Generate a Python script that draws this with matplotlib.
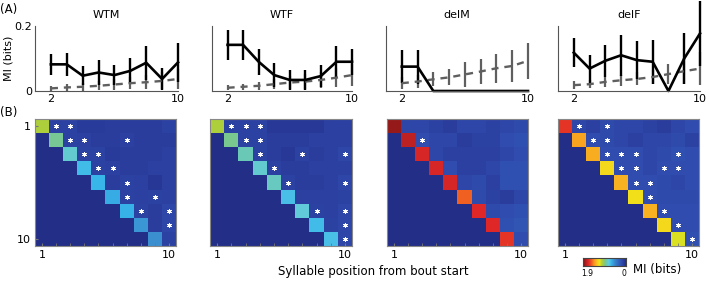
import numpy as np
import matplotlib
matplotlib.use('Agg')
import matplotlib.pyplot as plt
from matplotlib.colors import LinearSegmentedColormap

plt.rcParams['font.family'] = ['DejaVu Sans']

groups = ['WTM', 'WTF', 'delM', 'delF']
positions = [2, 3, 4, 5, 6, 7, 8, 9, 10]

# (A) mutual information, data (black) and shuffled (grey dashed)
mi_data = {
    'WTM': [0.082, 0.082, 0.047, 0.057, 0.049, 0.062, 0.087, 0.037, 0.088],
    'WTF': [0.142, 0.142, 0.090, 0.049, 0.034, 0.034, 0.046, 0.090, 0.090],
    'delM': [0.075, 0.075, 0.0, 0.0, 0.0, 0.0, 0.0, 0.0, 0.0],
    'delF': [0.118, 0.069, 0.093, 0.110, 0.095, 0.090, 0.0, 0.100, 0.177],
}
mi_data_err = {
    'WTM': [0.032, 0.035, 0.030, 0.038, 0.032, 0.040, 0.052, 0.033, 0.060],
    'WTF': [0.046, 0.046, 0.040, 0.036, 0.032, 0.030, 0.035, 0.048, 0.040],
    'delM': [0.051, 0.052, 0.0, 0.0, 0.0, 0.0, 0.0, 0.0, 0.0],
    'delF': [0.045, 0.043, 0.050, 0.063, 0.058, 0.067, 0.0, 0.078, 0.100],
}
mi_shuf = {
    'WTM': [0.008, 0.011, 0.013, 0.016, 0.020, 0.024, 0.027, 0.031, 0.037],
    'WTF': [0.010, 0.013, 0.016, 0.021, 0.026, 0.029, 0.034, 0.041, 0.049],
    'delM': [0.024, 0.029, 0.036, 0.042, 0.051, 0.060, 0.070, 0.077, 0.093],
    'delF': [0.018, 0.021, 0.028, 0.033, 0.037, 0.043, 0.052, 0.061, 0.069],
}
mi_shuf_err = {
    'WTM': [0.008, 0.010, 0.012, 0.014, 0.016, 0.018, 0.022, 0.026, 0.030],
    'WTF': [0.008, 0.010, 0.013, 0.016, 0.020, 0.022, 0.025, 0.030, 0.035],
    'delM': [0.018, 0.020, 0.022, 0.025, 0.038, 0.037, 0.045, 0.048, 0.055],
    'delF': [0.012, 0.013, 0.015, 0.017, 0.020, 0.022, 0.030, 0.040, 0.050],
}

# (B) pairwise MI matrices: diagonal + upper triangle rows
diag = {
    'WTM': [1.06, 0.90, 0.80, 0.68, 0.66, 0.62, 0.64, 0.55, 0.53],
    'WTF': [1.06, 0.91, 0.84, 0.80, 0.83, 0.70, 0.78, 0.68, 0.70],
    'delM': [1.84, 1.75, 1.67, 1.67, 1.67, 1.52, 1.65, 1.65, 1.62],
    'delF': [1.62, 1.37, 1.35, 1.22, 1.33, 1.20, 1.33, 1.22, 1.14],
}
upper = {
    'WTM': [[0.14, 0.14, 0.09, 0.09, 0.10, 0.10, 0.10, 0.10, 0.14],
            [0.14, 0.12, 0.10, 0.10, 0.12, 0.10, 0.10, 0.10],
            [0.14, 0.14, 0.09, 0.10, 0.10, 0.10, 0.12],
            [0.14, 0.12, 0.10, 0.10, 0.12, 0.12],
            [0.10, 0.14, 0.12, 0.07, 0.12],
            [0.14, 0.12, 0.14, 0.12],
            [0.14, 0.10, 0.16],
            [0.10, 0.16],
            [0.14]],
    'WTF': [[0.14, 0.14, 0.14, 0.08, 0.08, 0.08, 0.08, 0.12, 0.12],
            [0.14, 0.14, 0.10, 0.10, 0.10, 0.12, 0.12, 0.12],
            [0.14, 0.10, 0.08, 0.14, 0.10, 0.12, 0.16],
            [0.14, 0.10, 0.10, 0.12, 0.12, 0.12],
            [0.14, 0.10, 0.10, 0.12, 0.16],
            [0.12, 0.12, 0.12, 0.14],
            [0.14, 0.12, 0.16],
            [0.14, 0.16],
            [0.16]],
    'delM': [[0.16, 0.16, 0.14, 0.10, 0.16, 0.16, 0.14, 0.16, 0.18],
             [0.20, 0.16, 0.16, 0.10, 0.14, 0.14, 0.20, 0.22],
             [0.16, 0.12, 0.12, 0.12, 0.12, 0.16, 0.20],
             [0.20, 0.12, 0.12, 0.16, 0.22, 0.22],
             [0.16, 0.18, 0.12, 0.22, 0.22],
             [0.18, 0.14, 0.10, 0.16],
             [0.18, 0.20, 0.22],
             [0.22, 0.24],
             [0.20]],
    'delF': [[0.16, 0.12, 0.18, 0.16, 0.16, 0.14, 0.10, 0.16, 0.20],
             [0.20, 0.18, 0.16, 0.12, 0.16, 0.16, 0.18, 0.14],
             [0.20, 0.20, 0.20, 0.16, 0.18, 0.22, 0.20],
             [0.20, 0.20, 0.16, 0.20, 0.20, 0.20],
             [0.20, 0.20, 0.18, 0.16, 0.20],
             [0.20, 0.18, 0.18, 0.18],
             [0.20, 0.20, 0.20],
             [0.20, 0.20],
             [0.22]],
}
# significant pairs (row, col), zero based
stars = {
    'WTM': [(0, 1), (0, 2), (1, 2), (1, 3), (1, 6), (2, 3), (2, 4), (3, 4), (3, 5),
            (4, 6), (5, 6), (5, 8), (6, 7), (6, 9), (7, 9)],
    'WTF': [(0, 1), (0, 2), (0, 3), (1, 2), (1, 3), (2, 3), (2, 6), (2, 9), (3, 4),
            (4, 5), (4, 9), (6, 7), (6, 9), (7, 9), (8, 9)],
    'delM': [(1, 2)],
    'delF': [(0, 1), (0, 3), (1, 2), (1, 3), (2, 3), (2, 4), (2, 5), (2, 8), (3, 4),
             (3, 5), (3, 7), (3, 8), (4, 5), (4, 6), (5, 6), (6, 7), (7, 8), (8, 9)],
}
vmax = 1.9

# jet-like map as it looks in the figure
cmap = LinearSegmentedColormap.from_list('mi', [
    (0.0, '#232e86'), (0.05, '#2a3c9c'), (0.1, '#2f4cae'), (0.2, '#3470c4'),
    (0.28, '#3c90d0'), (0.34, '#36b4ea'), (0.40, '#5ecde6'), (0.45, '#6cc8b0'),
    (0.5, '#84c878'), (0.56, '#b0d038'), (0.62, '#f0e818'), (0.68, '#f8c020'),
    (0.74, '#f89820'), (0.8, '#f06020'), (0.87, '#e02828'), (0.93, '#b82020'),
    (1.0, '#7a1414')])

W, H = 709, 281
fig = plt.figure(figsize=(W / 100, H / 100), dpi=100)

top_x = [(35, 178), (212, 352), (386, 528), (558, 700)]
heat_x = [(35, 176), (210, 352), (387, 528), (558, 699)]

for k, g in enumerate(groups):
    x0, x1 = top_x[k]
    ax = fig.add_axes([x0 / W, 1 - 91 / H, (x1 - x0) / W, 65 / H])
    ax.errorbar(positions, mi_shuf[g], yerr=mi_shuf_err[g], color='#5f5f5f', lw=1.7,
                elinewidth=1.6, capsize=0, dashes=(3, 2.5), clip_on=False)
    ax.errorbar(positions, mi_data[g], yerr=mi_data_err[g], color='black', lw=1.9,
                elinewidth=1.7, capsize=0, clip_on=False)
    ax.set_xlim(1, 10)
    ax.set_ylim(0, 0.2)
    for s in ['top', 'right']:
        ax.spines[s].set_visible(False)
    for s in ['left', 'bottom']:
        ax.spines[s].set_color('#555555')
        ax.spines[s].set_linewidth(0.8)
    ax.set_xticks([2, 10])
    ax.tick_params(length=0, labelsize=8, pad=2)
    if k == 0:
        ax.set_yticks([0, 0.2])
        ax.set_yticklabels(['0', '0.2'])
        ax.set_ylabel('MI (bits)', fontsize=8, labelpad=1)
    else:
        ax.set_yticks([])
    ax.set_title(g, fontsize=8, pad=6)

    # heatmap
    hx0, hx1 = heat_x[k]
    hax = fig.add_axes([hx0 / W, 1 - 246 / H, (hx1 - hx0) / W, 127 / H])
    m = np.zeros((9, 10))
    for i in range(9):
        m[i, i] = diag[g][i]
        m[i, i + 1:] = upper[g][i]
    hax.imshow(m, cmap=cmap, vmin=0, vmax=vmax, aspect='auto',
               extent=(0.5, 10.5, 10.5625, 0.4375), interpolation='nearest')
    rs = [r for r, c in stars[g]]
    cs = [c for r, c in stars[g]]
    hax.scatter([c + 1 for c in cs], [1 + r * 1.125 for r in rs], marker=(6, 2, 0),
                s=9, color='white', lw=0.7, zorder=3)
    hax.set_xticks([1, 10])
    hax.set_xticks(range(1, 11), minor=True)
    hax.tick_params(which='both', direction='in', length=2, color='#777777',
                    labelsize=8, pad=3)
    if k == 0:
        hax.set_yticks([1, 10])
        hax.set_yticklabels(['1', '10'])
    else:
        hax.set_yticks([])
    for s in hax.spines.values():
        s.set_color('#888888')
        s.set_linewidth(0.8)

fig.text(0.0, 1 - 9 / H, '(A)', fontsize=8.5, va='center')
fig.text(0.0, 1 - 113 / H, '(B)', fontsize=8.5, va='center')
fig.text(373 / W, 1 - 272 / H, 'Syllable position from bout start', fontsize=8.5,
         ha='center', va='center')

# colorbar
cax = fig.add_axes([583 / W, 1 - 266 / H, 43 / W, 8 / H])
cax.imshow(np.linspace(vmax, 0, 256)[None, :], cmap=cmap, vmin=0, vmax=vmax,
           aspect='auto', extent=(0, 1, 0, 1))
cax.set_xticks([])
cax.set_yticks([])
for s in cax.spines.values():
    s.set_color('#444444')
    s.set_linewidth(0.8)
fig.text(587 / W, 1 - 274 / H, '1.9', fontsize=5.5, ha='center', va='center')
fig.text(624 / W, 1 - 274 / H, '0', fontsize=5.5, ha='center', va='center')
fig.text(633 / W, 1 - 270 / H, 'MI (bits)', fontsize=8.5, ha='left', va='center')

fig.savefig('out.png', dpi=100)
